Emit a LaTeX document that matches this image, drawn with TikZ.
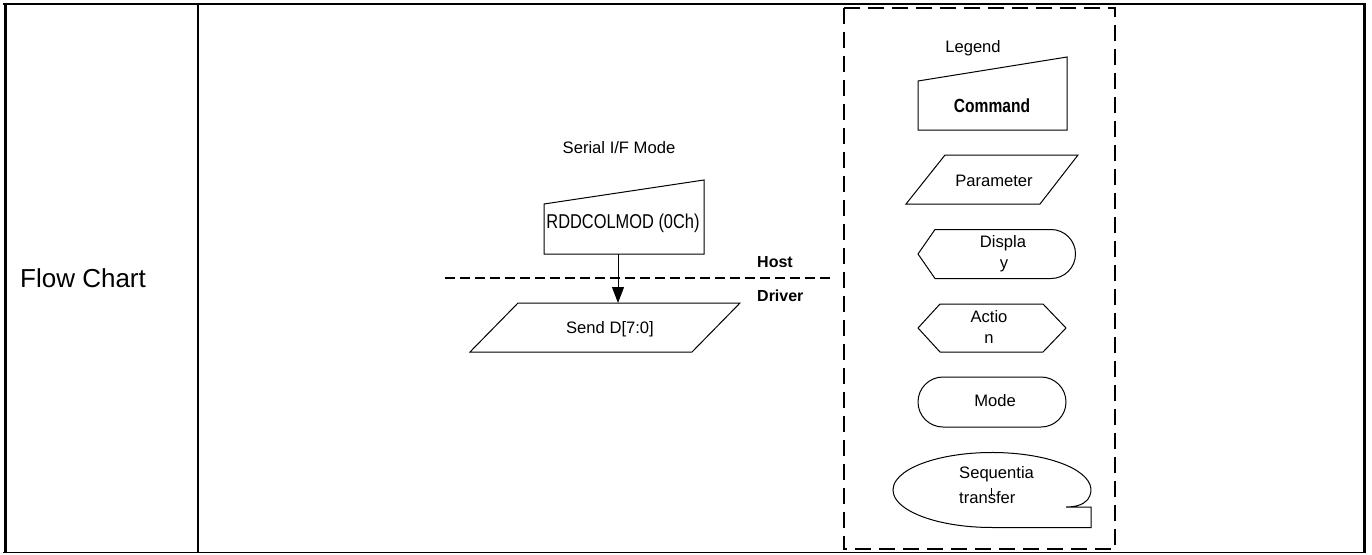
\documentclass[tikz,border=0pt]{standalone}
\usepackage{fontspec}
\setmainfont{Liberation Sans}
\usetikzlibrary{arrows.meta}
\tikzset{
  shp/.style={draw=black, line width=1pt, fill=white},
  lbl/.style={inner sep=0pt, font=\fontsize{16.6}{19}\selectfont},
  blbl/.style={inner sep=0pt, font=\fontsize{16}{19}\selectfont\bfseries},
  nlbl/.style={inner sep=0pt, font=\fontsize{20}{24}\selectfont, xscale=0.82},
  nblbl/.style={inner sep=0pt, font=\fontsize{19}{24}\selectfont\bfseries, xscale=0.82},
  legendbox/.style={draw=black, line width=2pt, dash pattern=on 16pt off 8pt},
  hostline/.style={draw=black, line width=2pt, dash pattern=on 10pt off 5pt},
  conn/.style={draw=black, line width=1pt, -{Triangle[length=16pt,width=12pt]}}
}
\begin{document}
\begin{tikzpicture}[x=1pt,y=1pt]
\useasboundingbox (0,0) rectangle (1372,-554);
% table
\draw[line width=2pt] (3,-4) -- (1366,-4);
\draw[line width=1.5pt] (3,-552.5) -- (1366,-552.5);
\draw[line width=3pt] (5,-3) -- (5,-553);
\draw[line width=3pt] (1364,-3) -- (1364,-553);
\draw[line width=1.5pt] (198,-4) -- (198,-552);
\node[anchor=base west, inner sep=0pt, font=\fontsize{26}{30}\selectfont] (fc) at (20,-287) {Flow Chart};

% main flow
\node[lbl, anchor=base] (title) at (619,-153) {Serial I/F Mode};
\draw[shp] (544,-204) -- (704,-180) -- (704,-254) -- (544,-254) -- cycle;
\node[nlbl, anchor=base] (cmd) at (623,-228) {RDDCOLMOD (0Ch)};
\coordinate (cmdB) at (618,-254);
\draw[shp] (518,-303) -- (740,-303) -- (692,-352) -- (470,-352) -- cycle;
\node[lbl, anchor=base] (send) at (610,-333) {Send D[7:0]};
\coordinate (sendT) at (618,-303);
\draw[conn] (cmdB) -- (sendT);
\coordinate (hl) at (445,-278);
\coordinate (hr) at (832,-278);
\draw[hostline] (hl) -- (hr);
\node[blbl, anchor=base west] (host) at (757,-267) {Host};
\node[blbl, anchor=base west] (driver) at (757,-301) {Driver};

% legend
\draw[legendbox] (844,-8) rectangle (1115,-549);
\node[lbl, anchor=base] (leg) at (973,-52) {Legend};
\draw[shp] (918,-81) -- (1067,-57) -- (1067,-130) -- (918,-130) -- cycle;
\node[nblbl, anchor=base] (lcmd) at (992,-112) {Command};
\draw[shp] (945,-155) -- (1078,-155) -- (1040,-204) -- (906,-204) -- cycle;
\node[lbl, anchor=base] (lpar) at (994,-186) {Parameter};
\draw[shp] (918,-254) -- (935,-229.5) -- (1051,-229.5) arc[start angle=90, end angle=-90, radius=24.5] -- (935,-278.5) -- cycle;
\node[lbl, anchor=base] (ldis1) at (1003,-247) {Displa};
\node[lbl, anchor=base] (ldis2) at (1004,-268) {y};
\draw[shp] (918,-328) -- (940,-304) -- (1043,-304) -- (1066,-328) -- (1043,-352) -- (940,-352) -- cycle;
\node[lbl, anchor=base] (lact1) at (989,-322) {Actio};
\node[lbl, anchor=base] (lact2) at (989,-343) {n};
\draw[shp, rounded corners=25pt] (918,-377) rectangle (1066,-427);
\node[lbl, anchor=base] (lmode) at (995,-406) {Mode};
\draw[shp] (1087.6,-499.7) arc[start angle=-15, end angle=270, x radius=99, y radius=37.5] -- (1091,-527.5) -- (1091,-507) -- (1066,-507) .. controls (1075,-507) and (1083,-505) .. (1087.6,-499.7);
\node[lbl, anchor=base west] (lseq1) at (959,-478) {Sequentia};
\node[lbl, anchor=base west] (lseq2) at (959,-503) {transfer};
\draw[line width=1pt] (991.5,-488) -- (991.5,-496);
\end{tikzpicture}
\end{document}
